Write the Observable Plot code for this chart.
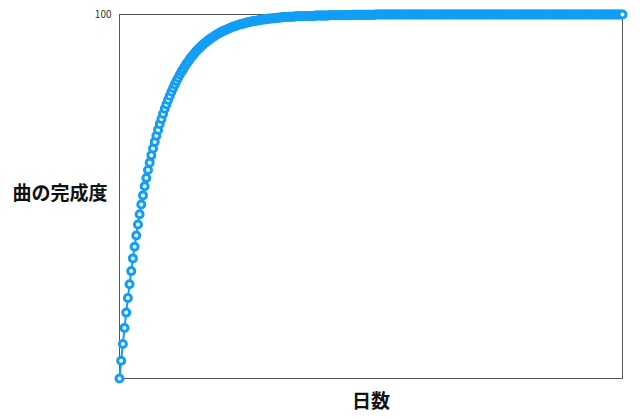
<!DOCTYPE html>
<html>
<head>
<meta charset="utf-8">
<script src="https://cdn.jsdelivr.net/npm/d3@7"></script>
<script src="https://cdn.jsdelivr.net/npm/@observablehq/plot@0.6"></script>
<style>
  html, body { margin: 0; padding: 0; background: #fff; }
</style>
</head>
<body>
<div id="chart"></div>
<script>
const xLabel = "日数";
const yLabel = "曲の完成度";
const yTicks = [100];
const completeness = [
  0, 4.9, 9.5, 13.9, 18.1, 22.1, 25.9, 29.5, 33.0, 36.2,
  39.3, 42.3, 45.1, 47.8, 50.3, 52.8, 55.1, 57.3, 59.3, 61.3,
  63.2, 65.0, 66.7, 68.3, 69.9, 71.3, 72.7, 74.1, 75.3, 76.5,
  77.7, 78.8, 79.8, 80.8, 81.7, 82.6, 83.5, 84.3, 85.0, 85.8,
  86.5, 87.1, 87.8, 88.4, 88.9, 89.5, 90.0, 90.5, 90.9, 91.4,
  91.8, 92.2, 92.6, 92.9, 93.3, 93.6, 93.9, 94.2, 94.5, 94.8,
  95.0, 95.3, 95.5, 95.7, 95.9, 96.1, 96.3, 96.5, 96.7, 96.8,
  97.0, 97.1, 97.3, 97.4, 97.5, 97.6, 97.8, 97.9, 98.0, 98.1,
  98.2, 98.3, 98.3, 98.4, 98.5, 98.6, 98.6, 98.7, 98.8, 98.8,
  98.9, 98.9, 99.0, 99.0, 99.1, 99.1, 99.2, 99.2, 99.3, 99.3,
  99.3, 99.4, 99.4, 99.4, 99.4, 99.5, 99.5, 99.5, 99.5, 99.5,
  99.5, 99.6, 99.6, 99.6, 99.6, 99.6, 99.6, 99.7, 99.7, 99.7,
  99.7, 99.7, 99.7, 99.7, 99.7, 99.8, 99.8, 99.8, 99.8, 99.8,
  99.8, 99.8, 99.8, 99.8, 99.8, 99.8, 99.8, 99.8, 99.8, 99.9,
  99.9, 99.9, 99.9, 99.9, 99.9, 99.9, 99.9, 99.9, 99.9, 99.9,
  99.9, 99.9, 99.9, 100, 100, 100, 100, 100, 100, 100,
  100, 100, 100, 100, 100, 100, 100, 100, 100, 100,
  100, 100, 100, 100, 100, 100, 100, 100, 100, 100,
  100, 100, 100, 100, 100, 100, 100, 100, 100, 100,
  100, 100, 100, 100, 100, 100, 100, 100, 100, 100,
  100, 100, 100, 100, 100, 100, 100, 100, 100, 100,
  100, 100, 100, 100, 100, 100, 100, 100, 100, 100,
  100, 100, 100, 100, 100, 100, 100, 100, 100, 100,
  100, 100, 100, 100, 100, 100, 100, 100, 100, 100,
  100, 100, 100, 100, 100, 100, 100, 100, 100, 100,
  100, 100, 100, 100, 100, 100, 100, 100, 100, 100,
  100, 100, 100, 100, 100, 100, 100, 100, 100, 100,
  100, 100, 100, 100, 100, 100, 100, 100, 100, 100,
  100, 100, 100, 100, 100, 100, 100, 100, 100, 100,
  100, 100, 100, 100, 100, 100, 100, 100, 100, 100,
  100
];
const data = completeness.map((v, i) => ({day: i, value: v}));
const blue = "#129ef6";
const font = "'Noto Sans CJK JP', 'Noto Sans', sans-serif";

const chart = Plot.plot({
  width: 640,
  height: 419,
  marginLeft: 119,
  marginRight: 18,
  marginTop: 14,
  marginBottom: 41,
  style: {background: "#fff", fontFamily: font},
  x: {domain: [0, completeness.length - 1], axis: null},
  y: {domain: [0, 100], axis: null},
  marks: [
    Plot.frame({stroke: "#555", strokeWidth: 1}),
    Plot.axisY(yTicks, {tickSize: 0, tickPadding: 8, fontSize: 10, label: null, color: "#333"}),
    Plot.line(data, {x: "day", y: "value", stroke: blue, strokeWidth: 2}),
    Plot.dot(data, {x: "day", y: "value", r: 3.5, stroke: blue, strokeWidth: 3, fill: "#fff"}),
    Plot.text([yLabel], {frameAnchor: "left", text: d => d, dx: -12, dy: -3, textAnchor: "end", fontSize: 19, fontWeight: "bold", fill: "#111", fontFamily: font}),
    Plot.text([xLabel], {frameAnchor: "bottom", text: d => d, dy: 29, fontSize: 19, fontWeight: "bold", fill: "#111", fontFamily: font})
  ]
});
document.getElementById("chart").appendChild(chart);
</script>
</body>
</html>
